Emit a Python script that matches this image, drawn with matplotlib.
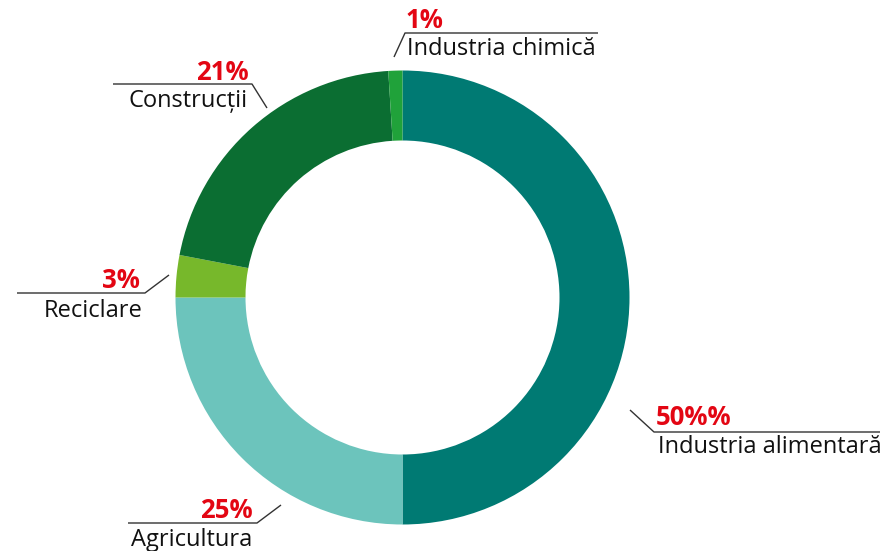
import matplotlib
matplotlib.use("Agg")
import matplotlib.pyplot as plt

# ---- data ----
categories = ["Industria alimentară", "Agricultura", "Reciclare", "Construcții", "Industria chimică"]
values = [50, 25, 3, 21, 1]
pct_labels = ["50%%", "25%", "3%", "21%", "1%"]
colors = ["#007a73", "#6cc4bc", "#77b82b", "#0b6e32", "#20a23a"]

plt.rcParams['font.family'] = ['Open Sans', 'DejaVu Sans']

W, H = 886, 551
fig = plt.figure(figsize=(W / 100, H / 100), dpi=100)
ax = fig.add_axes([0, 0, 1, 1])

cx, cy, R, ring = 402.5, 297.5, 227, 70
ax.pie(values, colors=colors, startangle=-90, counterclock=True,
       center=(cx, cy), radius=R,
       wedgeprops=dict(width=ring, linewidth=0))
ax.set_xlim(0, W)
ax.set_ylim(H, 0)
ax.set_aspect('equal')
ax.axis('off')

# leader layouts: (diag start, elbow, line end, pct baseline anchor, name baseline anchor, ha)
layout = [
    dict(d=(630, 410), e=(654, 432), end=(880, 432), p=(656, 425), n=(658, 453), ha='left'),
    dict(d=(281, 505), e=(257, 523), end=(128, 523), p=(253, 518), n=(131, 546), ha='right'),
    dict(d=(169, 275), e=(145, 293), end=(17, 293), p=(140, 288), n=(44, 317), ha='right'),
    dict(d=(267, 108), e=(252, 84), end=(113, 84), p=(249, 80), n=(129, 107), ha='right'),
    dict(d=(394, 57), e=(405, 33), end=(598, 33), p=(406, 28), n=(407, 55), ha='left'),
]

for cat, pl, L in zip(categories, pct_labels, layout):
    xs = [L['d'][0], L['e'][0], L['end'][0]]
    ys = [L['d'][1], L['e'][1], L['end'][1]]
    ax.plot(xs, ys, color='#333333', lw=1.0, solid_capstyle='butt')
    ax.text(L['p'][0], L['p'][1], pl, color='#e30613', fontweight='bold',
            fontsize=18.5, ha=L['ha'], va='baseline')
    ax.text(L['n'][0], L['n'][1], cat, color='#111111',
            fontsize=17, ha='left', va='baseline')

fig.savefig("out.png", dpi=100)
